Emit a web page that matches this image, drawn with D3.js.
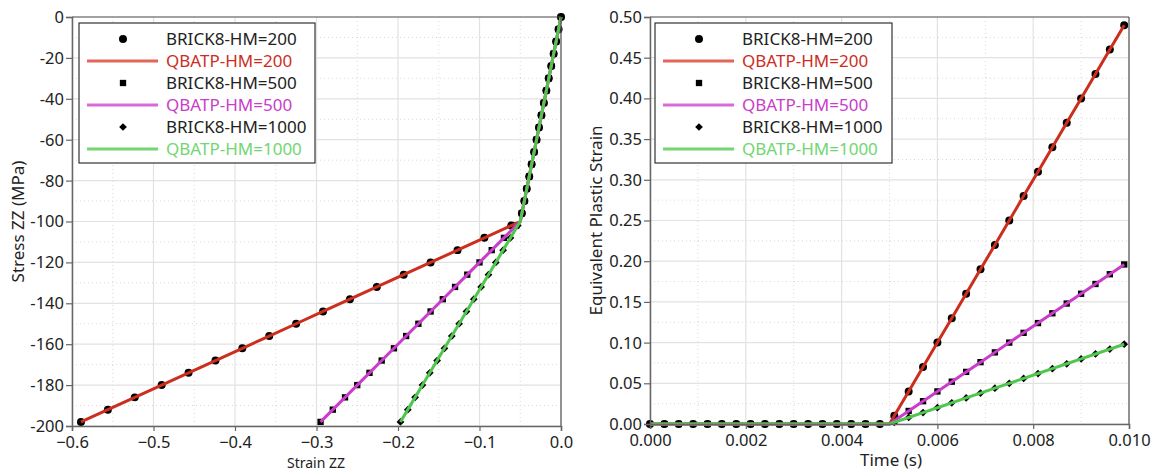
<!DOCTYPE html>
<html><head><meta charset="utf-8">
<script src="https://cdn.jsdelivr.net/npm/d3@7"></script>
<style>
body{margin:0;background:#fff;font-family:"Noto Sans",sans-serif;}
svg text{font-family:"Noto Sans",sans-serif;}
</style></head><body>
<svg id="c" width="1159" height="472"></svg>
<script>
// ---------- DATA ----------
const seriesNames = ["BRICK8-HM=200","QBATP-HM=200","BRICK8-HM=500","QBATP-HM=500","BRICK8-HM=1000","QBATP-HM=1000"];
// stress ZZ at each output step (MPa)
const stress = [0,-6,-12,-18,-24,-30,-36,-42,-48,-54,-60,-66,-72,-78,-84,-90,-96,-102,-108,-114,-120,-126,-132,-138,-144,-150,-156,-162,-168,-174,-180,-186,-192,-198];
const strainElastic = [0,-0.003,-0.006,-0.009,-0.012,-0.015,-0.018,-0.021,-0.024,-0.027,-0.030,-0.033,-0.036,-0.039,-0.042,-0.045,-0.048];
const strainHM200 = strainElastic.concat([-0.061,-0.094,-0.127,-0.160,-0.193,-0.226,-0.259,-0.292,-0.325,-0.358,-0.391,-0.424,-0.457,-0.490,-0.523,-0.556,-0.589]);
const strainHM500 = strainElastic.concat([-0.055,-0.070,-0.085,-0.100,-0.115,-0.130,-0.145,-0.160,-0.175,-0.190,-0.205,-0.220,-0.235,-0.250,-0.265,-0.280,-0.295]);
const strainHM1000 = strainElastic.concat([-0.053,-0.062,-0.071,-0.080,-0.089,-0.098,-0.107,-0.116,-0.125,-0.134,-0.143,-0.152,-0.161,-0.170,-0.179,-0.188,-0.197]);
// QBATP line (includes yield point)
const lineStress = [0,-50,-100,-102,-108,-114,-120,-126,-132,-138,-144,-150,-156,-162,-168,-174,-180,-186,-192,-198];
const lineStrainHM200 = [0,-0.025,-0.050,-0.061,-0.094,-0.127,-0.160,-0.193,-0.226,-0.259,-0.292,-0.325,-0.358,-0.391,-0.424,-0.457,-0.490,-0.523,-0.556,-0.589];
const lineStrainHM500 = [0,-0.025,-0.050,-0.055,-0.070,-0.085,-0.100,-0.115,-0.130,-0.145,-0.160,-0.175,-0.190,-0.205,-0.220,-0.235,-0.250,-0.265,-0.280,-0.295];
const lineStrainHM1000 = [0,-0.025,-0.050,-0.053,-0.062,-0.071,-0.080,-0.089,-0.098,-0.107,-0.116,-0.125,-0.134,-0.143,-0.152,-0.161,-0.170,-0.179,-0.188,-0.197];

// time (s) at each output step
const time = [0,0.0003,0.0006,0.0009,0.0012,0.0015,0.0018,0.0021,0.0024,0.0027,0.0030,0.0033,0.0036,0.0039,0.0042,0.0045,0.0048,0.0051,0.0054,0.0057,0.0060,0.0063,0.0066,0.0069,0.0072,0.0075,0.0078,0.0081,0.0084,0.0087,0.0090,0.0093,0.0096,0.0099];
const zeros17 = [0,0,0,0,0,0,0,0,0,0,0,0,0,0,0,0,0];
const epsHM200 = zeros17.concat([0.01,0.04,0.07,0.10,0.13,0.16,0.19,0.22,0.25,0.28,0.31,0.34,0.37,0.40,0.43,0.46,0.49]);
const epsHM500 = zeros17.concat([0.004,0.016,0.028,0.040,0.052,0.064,0.076,0.088,0.100,0.112,0.124,0.136,0.148,0.160,0.172,0.184,0.196]);
const epsHM1000 = zeros17.concat([0.002,0.008,0.014,0.020,0.026,0.032,0.038,0.044,0.050,0.056,0.062,0.068,0.074,0.080,0.086,0.092,0.098]);
const lineTime = [0,0.0050,0.0051,0.0054,0.0057,0.0060,0.0063,0.0066,0.0069,0.0072,0.0075,0.0078,0.0081,0.0084,0.0087,0.0090,0.0093,0.0096,0.0099];
const lineEpsHM200 = [0,0,0.01,0.04,0.07,0.10,0.13,0.16,0.19,0.22,0.25,0.28,0.31,0.34,0.37,0.40,0.43,0.46,0.49];
const lineEpsHM500 = [0,0,0.004,0.016,0.028,0.040,0.052,0.064,0.076,0.088,0.100,0.112,0.124,0.136,0.148,0.160,0.172,0.184,0.196];
const lineEpsHM1000 = [0,0,0.002,0.008,0.014,0.020,0.026,0.032,0.038,0.044,0.050,0.056,0.062,0.068,0.074,0.080,0.086,0.092,0.098];

const xTicksL = [-0.6,-0.5,-0.4,-0.3,-0.2,-0.1,0.0];
const yTicksL = [0,-20,-40,-60,-80,-100,-120,-140,-160,-180,-200];
const xTicksR = [0,0.002,0.004,0.006,0.008,0.010];
const yTicksR = [0,0.05,0.10,0.15,0.20,0.25,0.30,0.35,0.40,0.45,0.50];

const colors = {r:"#cc2e1e", m:"#c93dc9", g:"#50c650"};
const legendColors = {r:"#e2665a", m:"#d86bd8", g:"#72d672"};

// ---------- DRAW ----------
const svg = d3.select("#c");

function panel(cfg){
  const g = svg.append("g");
  const x = d3.scaleLinear().domain(cfg.xDomain).range([cfg.left, cfg.right]);
  const y = d3.scaleLinear().domain(cfg.yDomain).range([cfg.bottom, cfg.top]);
  const xs = cfg.xTicks, ys = cfg.yTicks;
  const xMinor = xs.slice(0,-1).map((v,i)=>(v+xs[i+1])/2);
  const yMinor = ys.slice(0,-1).map((v,i)=>(v+ys[i+1])/2);
  g.selectAll(".xmin").data(xMinor).enter().append("line")
    .attr("x1",d=>x(d)).attr("x2",d=>x(d)).attr("y1",cfg.top).attr("y2",cfg.bottom)
    .attr("stroke","#d8d8d8").attr("stroke-width",1).attr("stroke-dasharray","1,3");
  g.selectAll(".ymin").data(yMinor).enter().append("line")
    .attr("y1",d=>y(d)).attr("y2",d=>y(d)).attr("x1",cfg.left).attr("x2",cfg.right)
    .attr("stroke","#d8d8d8").attr("stroke-width",1).attr("stroke-dasharray","1,3");
  g.selectAll(".xmaj").data(xs).enter().append("line")
    .attr("x1",d=>x(d)).attr("x2",d=>x(d)).attr("y1",cfg.top).attr("y2",cfg.bottom)
    .attr("stroke","#e2e2e2").attr("stroke-width",1.2);
  g.selectAll(".ymaj").data(ys).enter().append("line")
    .attr("y1",d=>y(d)).attr("y2",d=>y(d)).attr("x1",cfg.left).attr("x2",cfg.right)
    .attr("stroke","#e2e2e2").attr("stroke-width",1.2);

  cfg.series.forEach(s=>{
    const pts = s.mx.map((v,i)=>[v, s.my[i]]);
    const sym = d3.symbol().type(s.sym).size(s.size);
    g.append("g").selectAll("path").data(pts).enter().append("path")
      .attr("d",sym).attr("transform",d=>`translate(${x(d[0])},${y(d[1])})`+(s.rot?" rotate(45)":""))
      .attr("fill","#000");
  });
  cfg.series.forEach(s=>{
    const lp = s.lx.map((v,i)=>[v, s.ly[i]]);
    g.append("path").datum(lp)
      .attr("d", d3.line().x(d=>x(d[0])).y(d=>y(d[1])))
      .attr("fill","none").attr("stroke",s.color).attr("stroke-width",3).attr("stroke-linejoin","round");
  });

  g.append("line").attr("x1",cfg.left).attr("x2",cfg.right).attr("y1",cfg.top).attr("y2",cfg.top).attr("stroke","#555").attr("stroke-width",1.2);
  g.append("line").attr("x1",cfg.right).attr("x2",cfg.right).attr("y1",cfg.top).attr("y2",cfg.bottom).attr("stroke","#555").attr("stroke-width",1.2);

  const ax = g.append("g").attr("transform",`translate(0,${cfg.bottom})`)
    .call(d3.axisBottom(x).tickValues(xs).tickFormat(cfg.xFmt).tickSizeOuter(0).tickSize(5).tickPadding(5));
  const ay = g.append("g").attr("transform",`translate(${cfg.left},0)`)
    .call(d3.axisLeft(y).tickValues(ys).tickFormat(cfg.yFmt).tickSizeOuter(0).tickSize(6).tickPadding(2));
  [ax,ay].forEach(a=>{
    a.select(".domain").attr("stroke","#666").attr("stroke-width",1.5);
    a.selectAll(".tick line").attr("stroke","#666").attr("stroke-width",1.2);
    a.selectAll(".tick text").attr("fill","#222").style("font-size","16.5px").style("font-family","Noto Sans");
  });
  ay.selectAll(".tick text").attr("dy","0.33em");

  g.append("text").attr("x",cfg.xLabelX).attr("y",cfg.xLabelY).attr("text-anchor","middle")
    .attr("fill","#222").style("font-size",cfg.xLabelSize).text(cfg.xLabel);
  g.append("text").attr("transform",`translate(${cfg.yLabelX},${(cfg.top+cfg.bottom)/2}) rotate(-90)`)
    .attr("text-anchor","middle").attr("fill","#222").style("font-size","17px").text(cfg.yLabel);

  const L = cfg.legend;
  const lg = g.append("g");
  lg.append("rect").attr("x",L.x).attr("y",L.y).attr("width",L.w).attr("height",L.h)
    .attr("fill","#fff").attr("stroke","#333").attr("stroke-width",1.2);
  const rows = [
    {name:seriesNames[0], sym:d3.symbolCircle, size:50, color:"#222"},
    {name:seriesNames[1], line:legendColors.r, color:colors.r},
    {name:seriesNames[2], sym:d3.symbolSquare, size:40, color:"#222"},
    {name:seriesNames[3], line:legendColors.m, color:colors.m},
    {name:seriesNames[4], sym:d3.symbolSquare, size:30, rot:true, color:"#222"},
    {name:seriesNames[5], line:legendColors.g, color:legendColors.g},
  ];
  rows.forEach((r,i)=>{
    const cy = L.y + 16 + i*22;
    if(r.line){
      lg.append("line").attr("x1",L.x+8).attr("x2",L.x+79).attr("y1",cy).attr("y2",cy)
        .attr("stroke",r.line).attr("stroke-width",3);
    } else {
      lg.append("path").attr("d",d3.symbol().type(r.sym).size(r.size)())
        .attr("transform",`translate(${L.x+44},${cy})`+(r.rot?" rotate(45)":"")).attr("fill","#000");
    }
    lg.append("text").attr("x",L.x+87).attr("y",cy).attr("dy","0.36em")
      .attr("fill",r.color).style("font-size","17px").text(r.name);
  });
}

panel({
  left:72, right:561, top:17, bottom:426,
  xDomain:[-0.6,0], yDomain:[-200,0],
  xTicks:xTicksL, yTicks:yTicksL,
  xFmt:d3.format(".1f"), yFmt:d=>String(d),
  xLabel:"Strain ZZ", xLabelX:316, xLabelY:468, xLabelSize:"14px",
  yLabel:"Stress ZZ (MPa)", yLabelX:24,
  legend:{x:79,y:23,w:236,h:140},
  series:[
    {mx:strainHM200, my:stress, lx:lineStrainHM200, ly:lineStress, sym:d3.symbolCircle, size:50, color:colors.r},
    {mx:strainHM500, my:stress, lx:lineStrainHM500, ly:lineStress, sym:d3.symbolSquare, size:40, color:colors.m},
    {mx:strainHM1000, my:stress, lx:lineStrainHM1000, ly:lineStress, sym:d3.symbolSquare, size:30, rot:true, color:colors.g},
  ]
});

panel({
  left:650, right:1129, top:17, bottom:424,
  xDomain:[0,0.010], yDomain:[0,0.5],
  xTicks:xTicksR, yTicks:yTicksR,
  xFmt:d3.format(".3f"), yFmt:d3.format(".2f"),
  xLabel:"Time (s)", xLabelX:891, xLabelY:466, xLabelSize:"17px",
  yLabel:"Equivalent Plastic Strain", yLabelX:602,
  legend:{x:655,y:23,w:237,h:140},
  series:[
    {mx:time, my:epsHM200, lx:lineTime, ly:lineEpsHM200, sym:d3.symbolCircle, size:50, color:colors.r},
    {mx:time, my:epsHM500, lx:lineTime, ly:lineEpsHM500, sym:d3.symbolSquare, size:40, color:colors.m},
    {mx:time, my:epsHM1000, lx:lineTime, ly:lineEpsHM1000, sym:d3.symbolSquare, size:30, rot:true, color:colors.g},
  ]
});
</script>
</body></html>
